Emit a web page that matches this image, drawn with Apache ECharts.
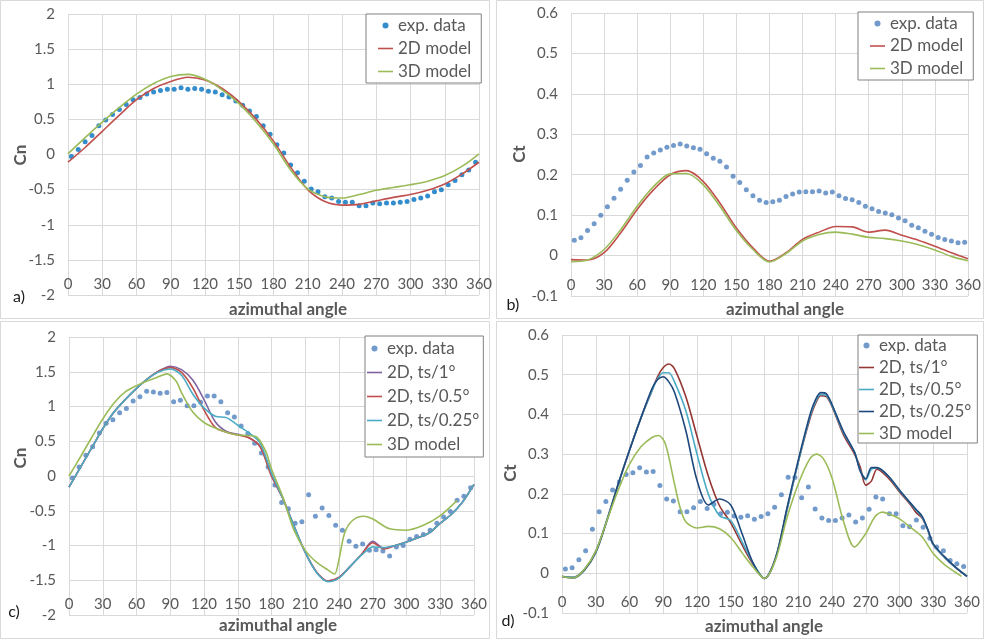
<!DOCTYPE html>
<html>
<head>
<meta charset="utf-8">
<script src="https://cdn.jsdelivr.net/npm/echarts@6/dist/echarts.min.js"></script>
<style>
  html, body { margin: 0; padding: 0; background: #fff; }
  #chart { width: 984px; height: 639px; }
</style>
</head>
<body>
<div id="chart"></div>
<script>
// angles of the measured points (every 6 deg)
const expAngles = [3, 9, 15, 21, 27, 33, 39, 45, 51, 57, 63, 69, 75, 81, 87, 93, 99, 105, 111, 117,
  123, 129, 135, 141, 147, 153, 159, 165, 171, 177, 183, 189, 195, 201, 207, 213, 219, 225, 231, 237,
  243, 249, 255, 261, 267, 273, 279, 285, 291, 297, 303, 309, 315, 321, 327, 333, 339, 345, 351, 357]

// a) Cn
const cnExpA = [-0.03, 0.07, 0.18, 0.27, 0.41, 0.49, 0.57, 0.64, 0.71, 0.78, 0.81, 0.86, 0.89, 0.91, 0.93, 0.93, 0.95, 0.93, 0.94, 0.93,
  0.90, 0.89, 0.85, 0.82, 0.76, 0.70, 0.62, 0.54, 0.41, 0.29, 0.14, 0.02, -0.15, -0.26, -0.38, -0.49, -0.53, -0.60, -0.62, -0.67,
  -0.68, -0.68, -0.73, -0.73, -0.69, -0.70, -0.69, -0.69, -0.68, -0.67, -0.64, -0.62, -0.59, -0.53, -0.50, -0.43, -0.37, -0.29, -0.22, -0.11]
const modelAnglesAB = [0, 15, 30, 45, 60, 75, 90, 105, 120, 135, 150, 165, 180, 195, 210, 225, 240, 255, 270, 285, 300, 315, 330, 345, 360]
const cn2dA = [-0.11, 0.10, 0.33, 0.56, 0.78, 0.94, 1.04, 1.10, 1.06, 0.94, 0.75, 0.50, 0.19, -0.18, -0.50, -0.67, -0.72, -0.71, -0.66, -0.61, -0.57, -0.51, -0.42, -0.28, -0.11]
const cn3dA = [0.01, 0.24, 0.46, 0.67, 0.86, 1.01, 1.11, 1.14, 1.07, 0.92, 0.72, 0.46, 0.15, -0.22, -0.49, -0.60, -0.62, -0.57, -0.51, -0.47, -0.43, -0.38, -0.30, -0.17, 0.01]

// b) Ct
const ctExpB = [0.038, 0.044, 0.062, 0.079, 0.100, 0.121, 0.142, 0.164, 0.186, 0.207, 0.223, 0.244, 0.254, 0.261, 0.268, 0.272, 0.276, 0.271, 0.267, 0.263,
  0.252, 0.241, 0.233, 0.219, 0.196, 0.181, 0.163, 0.148, 0.137, 0.131, 0.133, 0.137, 0.146, 0.152, 0.157, 0.158, 0.158, 0.160, 0.155, 0.157,
  0.148, 0.141, 0.138, 0.131, 0.122, 0.116, 0.109, 0.105, 0.101, 0.093, 0.086, 0.075, 0.069, 0.060, 0.053, 0.045, 0.040, 0.036, 0.032, 0.033]
const ct2dB = [-0.010, -0.011, 0.007, 0.056, 0.114, 0.163, 0.200, 0.210, 0.183, 0.130, 0.068, 0.019, -0.014, 0.007, 0.040, 0.058, 0.072, 0.071, 0.058, 0.063, 0.050, 0.038, 0.023, 0.007, -0.008]
const ct3dB = [-0.015, -0.011, 0.015, 0.064, 0.122, 0.171, 0.202, 0.203, 0.175, 0.122, 0.062, 0.015, -0.016, 0.005, 0.036, 0.052, 0.058, 0.053, 0.045, 0.042, 0.036, 0.027, 0.014, -0.002, -0.013]

// c) Cn, time step study
const cnExpC = [-0.03, 0.13, 0.30, 0.42, 0.62, 0.76, 0.81, 0.91, 0.97, 1.08, 1.14, 1.22, 1.21, 1.19, 1.20, 1.07, 1.09, 1.01, 1.01, 1.06,
  1.15, 1.15, 1.07, 0.91, 0.85, 0.72, 0.61, 0.47, 0.33, 0.13, -0.13, -0.38, -0.47, -0.68, -0.66, -0.27, -0.58, -0.46, -0.57, -0.71,
  -0.78, -0.94, -1.01, -0.98, -1.07, -1.06, -1.08, -1.15, -1.02, -1.00, -0.91, -0.87, -0.84, -0.78, -0.68, -0.59, -0.51, -0.35, -0.29, -0.17]
const lineAnglesC = [0, 10, 20, 30, 40, 50, 60, 70, 80, 90, 100, 110, 120, 130, 140, 150, 160, 170, 180,
  190, 200, 210, 220, 230, 240, 250, 260, 270, 280, 290, 300, 310, 320, 330, 340, 350, 360]
const cnTs1C = [-0.16, 0.12, 0.40, 0.68, 0.92, 1.10, 1.26, 1.40, 1.51, 1.58, 1.53, 1.38, 1.10, 0.78, 0.64, 0.60, 0.55, 0.42, 0.00,
  -0.32, -0.72, -1.10, -1.38, -1.51, -1.46, -1.30, -1.13, -0.94, -1.04, -1.00, -0.95, -0.89, -0.82, -0.68, -0.55, -0.37, -0.12]
const cnTs05C = [-0.16, 0.12, 0.40, 0.68, 0.92, 1.10, 1.26, 1.40, 1.51, 1.56, 1.49, 1.27, 0.95, 0.70, 0.63, 0.59, 0.55, 0.42, 0.00,
  -0.32, -0.72, -1.10, -1.38, -1.51, -1.46, -1.30, -1.13, -0.96, -1.05, -1.00, -0.95, -0.89, -0.82, -0.68, -0.55, -0.37, -0.12]
const cnTs025C = [-0.16, 0.12, 0.40, 0.68, 0.92, 1.10, 1.26, 1.40, 1.50, 1.54, 1.45, 1.18, 0.98, 0.86, 0.84, 0.73, 0.62, 0.47, 0.04,
  -0.32, -0.72, -1.10, -1.39, -1.52, -1.47, -1.30, -1.14, -1.02, -1.03, -1.00, -0.95, -0.89, -0.82, -0.68, -0.55, -0.37, -0.12]
const anglesC3d = [0, 10, 20, 30, 40, 50, 60, 70, 80, 87, 95, 100, 110, 120, 130, 140, 150, 160, 167, 175, 180,
  190, 200, 210, 220, 230, 236, 240, 245, 252, 262, 270, 285, 300, 315, 330, 345]
const cn3dC = [0.00, 0.27, 0.55, 0.82, 1.05, 1.21, 1.30, 1.37, 1.43, 1.47, 1.37, 1.20, 0.92, 0.77, 0.69, 0.63, 0.59, 0.58, 0.56, 0.35, 0.10,
  -0.30, -0.78, -1.07, -1.24, -1.35, -1.41, -1.20, -0.82, -0.64, -0.58, -0.62, -0.76, -0.78, -0.71, -0.57, -0.35]

// d) Ct, time step study
const ctExpD = [0.011, 0.014, 0.034, 0.057, 0.111, 0.155, 0.181, 0.210, 0.230, 0.249, 0.253, 0.266, 0.255, 0.256, 0.221, 0.187, 0.182, 0.155, 0.155, 0.165,
  0.181, 0.163, 0.174, 0.150, 0.154, 0.144, 0.141, 0.145, 0.136, 0.143, 0.150, 0.166, 0.198, 0.242, 0.241, 0.190, 0.217, 0.162, 0.139, 0.133,
  0.133, 0.139, 0.147, 0.129, 0.139, 0.161, 0.192, 0.187, 0.150, 0.150, 0.120, 0.117, 0.134, 0.116, 0.088, 0.066, 0.057, 0.032, 0.024, 0.017]
const lineAnglesD = [0, 10, 20, 30, 40, 50, 60, 70, 80, 85, 90, 95, 100, 110, 120, 130, 140, 150, 160, 170, 180,
  190, 200, 210, 220, 225, 230, 235, 240, 250, 260, 265, 270, 275, 280, 290, 300, 310, 315, 320, 325, 330, 340, 350, 360]
const ctTs1D = [-0.008, -0.010, 0.010, 0.055, 0.135, 0.225, 0.310, 0.390, 0.460, 0.495, 0.518, 0.527, 0.515, 0.445, 0.345, 0.245, 0.170, 0.127, 0.072, 0.022, -0.013,
  0.040, 0.160, 0.280, 0.385, 0.425, 0.447, 0.445, 0.420, 0.350, 0.300, 0.268, 0.222, 0.232, 0.262, 0.240, 0.205, 0.172, 0.152, 0.140, 0.110, 0.072, 0.040, 0.014, -0.008]
const ctTs05D = [-0.008, -0.010, 0.010, 0.055, 0.135, 0.225, 0.310, 0.390, 0.460, 0.490, 0.505, 0.505, 0.482, 0.410, 0.300, 0.200, 0.145, 0.133, 0.080, 0.025, -0.013,
  0.040, 0.160, 0.280, 0.390, 0.430, 0.450, 0.448, 0.422, 0.355, 0.305, 0.260, 0.235, 0.262, 0.265, 0.245, 0.208, 0.175, 0.158, 0.142, 0.110, 0.072, 0.040, 0.014, -0.008]
const ctTs025D = [-0.008, -0.012, 0.008, 0.052, 0.133, 0.225, 0.310, 0.390, 0.465, 0.488, 0.495, 0.482, 0.456, 0.360, 0.234, 0.172, 0.187, 0.172, 0.100, 0.025, -0.013,
  0.040, 0.165, 0.285, 0.395, 0.435, 0.455, 0.452, 0.425, 0.358, 0.305, 0.258, 0.238, 0.266, 0.266, 0.245, 0.210, 0.176, 0.160, 0.144, 0.112, 0.074, 0.042, 0.015, -0.008]
const anglesD3d = [0, 10, 20, 30, 40, 50, 60, 70, 80, 86, 92, 100, 105, 110, 120, 130, 140, 150, 160, 170, 180,
  190, 200, 210, 220, 226, 232, 240, 250, 260, 270, 278, 285, 290, 300, 310, 320, 330, 340, 350, 355]
const ct3dD = [-0.008, -0.012, 0.010, 0.055, 0.133, 0.210, 0.275, 0.318, 0.342, 0.347, 0.325, 0.225, 0.165, 0.130, 0.114, 0.118, 0.112, 0.090, 0.052, 0.015, -0.013,
  0.035, 0.140, 0.225, 0.287, 0.300, 0.290, 0.240, 0.133, 0.066, 0.100, 0.142, 0.154, 0.150, 0.137, 0.115, 0.092, 0.050, 0.022, 0.002, -0.008]

const yTicksCn = { min: -2, max: 2, interval: 0.5 }
const yTicksCt = { min: -0.1, max: 0.6, interval: 0.1 }

const FONT = 'Lato'
const GREY = '#595959'
const GRID_LINE = '#d9d9d9'
// thin line legend icon (moveTo points keep the box 15x6)
const LINE_ICON = 'path://M0,0M0,2.2L15,2.2L15,3.8L0,3.8ZM15,6'

function pairs (xs, ys) {
  return xs.map((x, i) => [x, ys[i]])
}

const chart = echarts.init(document.getElementById('chart'))

const grids = [
  { left: 68, top: 14, width: 411, height: 281 },
  { left: 571, top: 13, width: 400, height: 283 },
  { left: 69, top: 337, width: 405, height: 278 },
  { left: 562, top: 335, width: 405, height: 278 }
]

const xAxes = grids.map((g, i) => ({
  gridIndex: i,
  type: 'value',
  min: 0,
  max: 360,
  interval: 30,
  axisLine: { show: false },
  axisTick: { show: false },
  axisLabel: { inside: true, margin: 3, color: GREY, fontSize: 15, fontFamily: FONT },
  splitLine: { lineStyle: { color: GRID_LINE } }
}))

const yAxes = [yTicksCn, yTicksCt, yTicksCn, yTicksCt].map((t, i) => ({
  gridIndex: i,
  type: 'value',
  min: t.min,
  max: t.max,
  interval: t.interval,
  axisLine: { show: false },
  axisTick: { show: false },
  axisLabel: { margin: 13, color: GREY, fontSize: 15, fontFamily: FONT },
  splitLine: { lineStyle: { color: GRID_LINE } }
}))

function dots (i, name, data, color) {
  return { name: name, type: 'scatter', xAxisIndex: i, yAxisIndex: i, data: data, symbolSize: 5, itemStyle: { color: color } }
}
function curve (i, name, data, color) {
  return {
    name: name, type: 'line', xAxisIndex: i, yAxisIndex: i, data: data,
    symbol: 'none', smooth: 0.3, lineStyle: { color: color, width: 1.6 }, itemStyle: { color: color }
  }
}

const series = [
  dots(0, 'exp. data', pairs(expAngles, cnExpA), '#0070c0'),
  curve(0, '2D model', pairs(modelAnglesAB, cn2dA), '#c0504d'),
  curve(0, '3D model', pairs(modelAnglesAB, cn3dA), '#9bbb59'),

  dots(1, 'exp. data', pairs(expAngles, ctExpB), '#4f81bd'),
  curve(1, '2D model', pairs(modelAnglesAB, ct2dB), '#c0504d'),
  curve(1, '3D model', pairs(modelAnglesAB, ct3dB), '#9bbb59'),

  dots(2, 'exp. data', pairs(expAngles, cnExpC), '#4f81bd'),
  curve(2, '2D, ts/1°', pairs(lineAnglesC, cnTs1C), '#8064a2'),
  curve(2, '2D, ts/0.5°', pairs(lineAnglesC, cnTs05C), '#c0504d'),
  curve(2, '2D, ts/0.25°', pairs(lineAnglesC, cnTs025C), '#4bacc6'),
  curve(2, '3D model', pairs(anglesC3d, cn3dC), '#9bbb59'),

  dots(3, 'exp. data', pairs(expAngles, ctExpD), '#4f81bd'),
  curve(3, '2D, ts/1°', pairs(lineAnglesD, ctTs1D), '#943634'),
  curve(3, '2D, ts/0.5°', pairs(lineAnglesD, ctTs05D), '#4bacc6'),
  curve(3, '2D, ts/0.25°', pairs(lineAnglesD, ctTs025D), '#1f497d'),
  curve(3, '3D model', pairs(anglesD3d, ct3dD), '#9bbb59')
]

function legendItem (name, color, isDot) {
  return {
    name: name,
    icon: isDot ? 'circle' : LINE_ICON,
    itemStyle: { color: color },
    lineStyle: { color: color }
  }
}
function legendBox (left, top, padding, gap, items) {
  return {
    orient: 'vertical', left: left, top: top, padding: padding, itemGap: gap,
    itemWidth: 15, itemHeight: 6, selectedMode: false,
    backgroundColor: '#fff', borderColor: '#808080', borderWidth: 1,
    textStyle: { fontSize: 17, color: GREY, fontFamily: FONT },
    data: items
  }
}

const legends = [
  legendBox(366, 14, [3, 10, 3, 12], 6, [
    legendItem('exp. data', '#0070c0', true),
    legendItem('2D model', '#c0504d'),
    legendItem('3D model', '#9bbb59')
  ]),
  legendBox(858, 12, [3, 10, 3, 12], 5.5, [
    legendItem('exp. data', '#4f81bd', true),
    legendItem('2D model', '#c0504d'),
    legendItem('3D model', '#9bbb59')
  ]),
  legendBox(365, 336, [4, 4, 4, 2], 7, [
    legendItem('exp. data', '#4f81bd', true),
    legendItem('2D, ts/1°', '#8064a2'),
    legendItem('2D, ts/0.5°', '#c0504d'),
    legendItem('2D, ts/0.25°', '#4bacc6'),
    legendItem('3D model', '#9bbb59')
  ]),
  legendBox(858, 335, [2, 6, 1, 1], 5, [
    legendItem('exp. data', '#4f81bd', true),
    legendItem('2D, ts/1°', '#943634'),
    legendItem('2D, ts/0.5°', '#4bacc6'),
    legendItem('2D, ts/0.25°', '#1f497d'),
    legendItem('3D model', '#9bbb59')
  ])
]

function label (x, y, text, font, color, rot) {
  return {
    type: 'text', x: x, y: y, rotation: rot || 0, silent: true,
    style: { text: text, font: font, fill: color, align: 'center', verticalAlign: 'middle' }
  }
}
function frame (x, y, w, h) {
  return { type: 'rect', silent: true, shape: { x: x, y: y, width: w, height: h }, style: { fill: null, stroke: GRID_LINE, lineWidth: 1 } }
}

const titleFont = 'bold 17px ' + FONT
const graphic = [
  frame(0.5, 0.5, 489, 318),
  frame(496.5, 0.5, 487, 318),
  frame(0.5, 321.5, 489, 317),
  frame(496.5, 321.5, 487, 317),
  label(19, 297, 'a)', '16px ' + FONT, '#1a1a1a'),
  label(513, 305, 'b)', '16px ' + FONT, '#1a1a1a'),
  label(14, 612, 'c)', '16px ' + FONT, '#1a1a1a'),
  label(508, 621, 'd)', '16px ' + FONT, '#1a1a1a'),
  label(21, 155, 'Cn', titleFont, GREY, Math.PI / 2),
  label(520, 154, 'Ct', titleFont, GREY, Math.PI / 2),
  label(21, 458, 'Cn', titleFont, GREY, Math.PI / 2),
  label(511, 473, 'Ct', titleFont, GREY, Math.PI / 2),
  label(288, 310, 'azimuthal angle', titleFont, GREY),
  label(785, 310, 'azimuthal angle', titleFont, GREY),
  label(278, 626, 'azimuthal angle', titleFont, GREY),
  label(764, 627, 'azimuthal angle', titleFont, GREY)
]

const option = {
  animation: false,
  textStyle: { fontFamily: FONT },
  grid: grids,
  xAxis: xAxes,
  yAxis: yAxes,
  legend: legends,
  graphic: graphic,
  series: series
}
chart.setOption(option)
</script>
</body>
</html>
